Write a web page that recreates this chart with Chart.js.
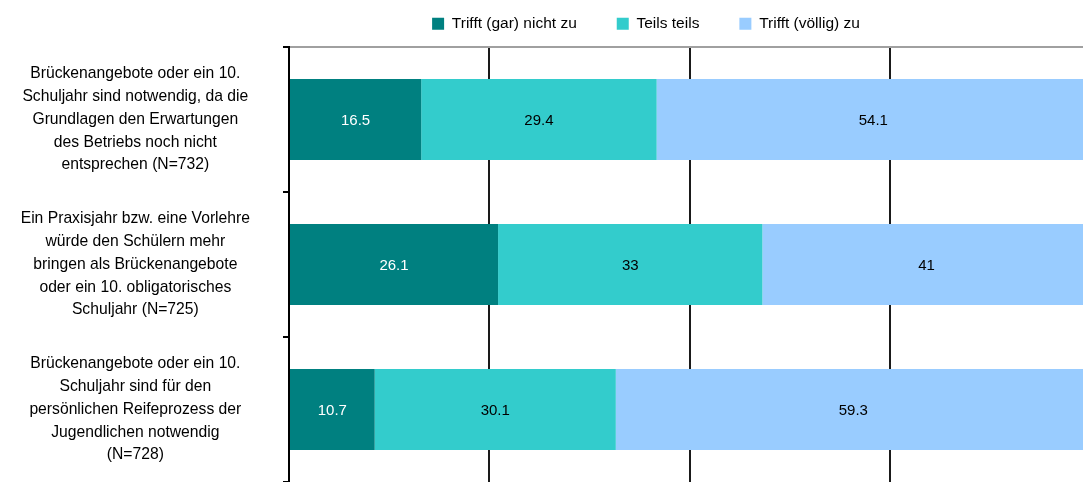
<!DOCTYPE html>
<html>
<head>
<meta charset="utf-8">
<script src="https://cdn.jsdelivr.net/npm/chart.js@4/dist/chart.umd.min.js"></script>
<style>
  html, body { margin: 0; padding: 0; background: #fff; overflow: hidden; }
  #wrap { width: 1083px; height: 482px; overflow: hidden; }
</style>
</head>
<body>
<div id="wrap"><canvas id="chart" width="1090" height="482"></canvas></div>
<script>
// Statements (one per bar), multi-line as in the original
const categories = [
    ['Brückenangebote oder ein 10.', 'Schuljahr sind notwendig, da die', 'Grundlagen den Erwartungen', 'des Betriebs noch nicht', 'entsprechen (N=732)'],
    ['Ein Praxisjahr bzw. eine Vorlehre', 'würde den Schülern mehr', 'bringen als Brückenangebote', 'oder ein 10. obligatorisches', 'Schuljahr (N=725)'],
    ['Brückenangebote oder ein 10.', 'Schuljahr sind für den', 'persönlichen Reifeprozess der', 'Jugendlichen notwendig', '(N=728)']
];
const seriesNames = ['Trifft (gar) nicht zu', 'Teils teils', 'Trifft (völlig) zu'];
const nichtZu = [16.5, 26.1, 10.7];
const teilsTeils = [29.4, 33, 30.1];
const zu = [54.1, 41, 59.3];
const xTicks = [0, 25, 50, 75, 100];

const colors = ['#008080', '#33cccc', '#99ccff'];
const labelColors = ['#ffffff', '#000000', '#000000'];

// Value labels centred in each segment
const segmentLabels = {
    id: 'segmentLabels',
    afterDatasetsDraw(chart) {
        const ctx = chart.ctx;
        ctx.save();
        ctx.font = '15px "Liberation Sans", Arial, sans-serif';
        ctx.textAlign = 'center';
        ctx.textBaseline = 'middle';
        chart.data.datasets.forEach((ds, i) => {
            const meta = chart.getDatasetMeta(i);
            meta.data.forEach((bar, j) => {
                ctx.fillStyle = labelColors[i];
                ctx.fillText(String(ds.data[j]), (bar.x + bar.base) / 2, bar.y + 1);
            });
        });
        ctx.restore();
    }
};

// Move the legend to the right, as in the original
const legendShift = {
    id: 'legendShift',
    afterLayout(chart) {
        if (chart.legend) {
            chart.legend.left += 101;
            chart.legend.right += 101;
        }
    }
};

const ctx = document.getElementById('chart').getContext('2d');
new Chart(ctx, {
    type: 'bar',
    data: {
        labels: categories,
        datasets: [nichtZu, teilsTeils, zu].map((d, i) => ({
            label: seriesNames[i],
            data: d,
            backgroundColor: colors[i],
            borderWidth: 0,
            barPercentage: 0.56,
            categoryPercentage: 1
        }))
    },
    options: {
        indexAxis: 'y',
        responsive: false,
        animation: false,
        layout: { padding: { top: -24, left: 0, right: 0, bottom: 0 } },
        scales: {
            x: {
                position: 'top',
                stacked: true,
                min: 0,
                max: 100,
                afterBuildTicks: (s) => { s.ticks = xTicks.map(v => ({ value: v })); },
                ticks: { display: false },
                grid: { color: '#1a1a1a', lineWidth: 2, drawTicks: false },
                border: { color: '#a0a0a0', width: 2 },
                afterFit: (s) => { s.height = 5.5; }
            },
            y: {
                stacked: true,
                ticks: {
                    crossAlign: 'center',
                    padding: 33,
                    color: '#000',
                    font: { family: '"Liberation Sans", Arial, sans-serif', size: 15.7, lineHeight: 1.45 }
                },
                grid: { drawOnChartArea: false, drawTicks: true, tickLength: 6, color: '#000', lineWidth: 2 },
                border: { color: '#000', width: 2 },
                afterFit: (s) => { s.width = 289; s.paddingTop = 0; s.paddingBottom = 0; }
            }
        },
        plugins: {
            legend: {
                position: 'top',
                labels: {
                    boxWidth: 12,
                    boxHeight: 12,
                    padding: 40,
                    color: '#000',
                    font: { family: '"Liberation Sans", Arial, sans-serif', size: 15.5 }
                }
            },
            tooltip: { enabled: false }
        }
    },
    plugins: [segmentLabels, legendShift]
});
</script>
</body>
</html>
